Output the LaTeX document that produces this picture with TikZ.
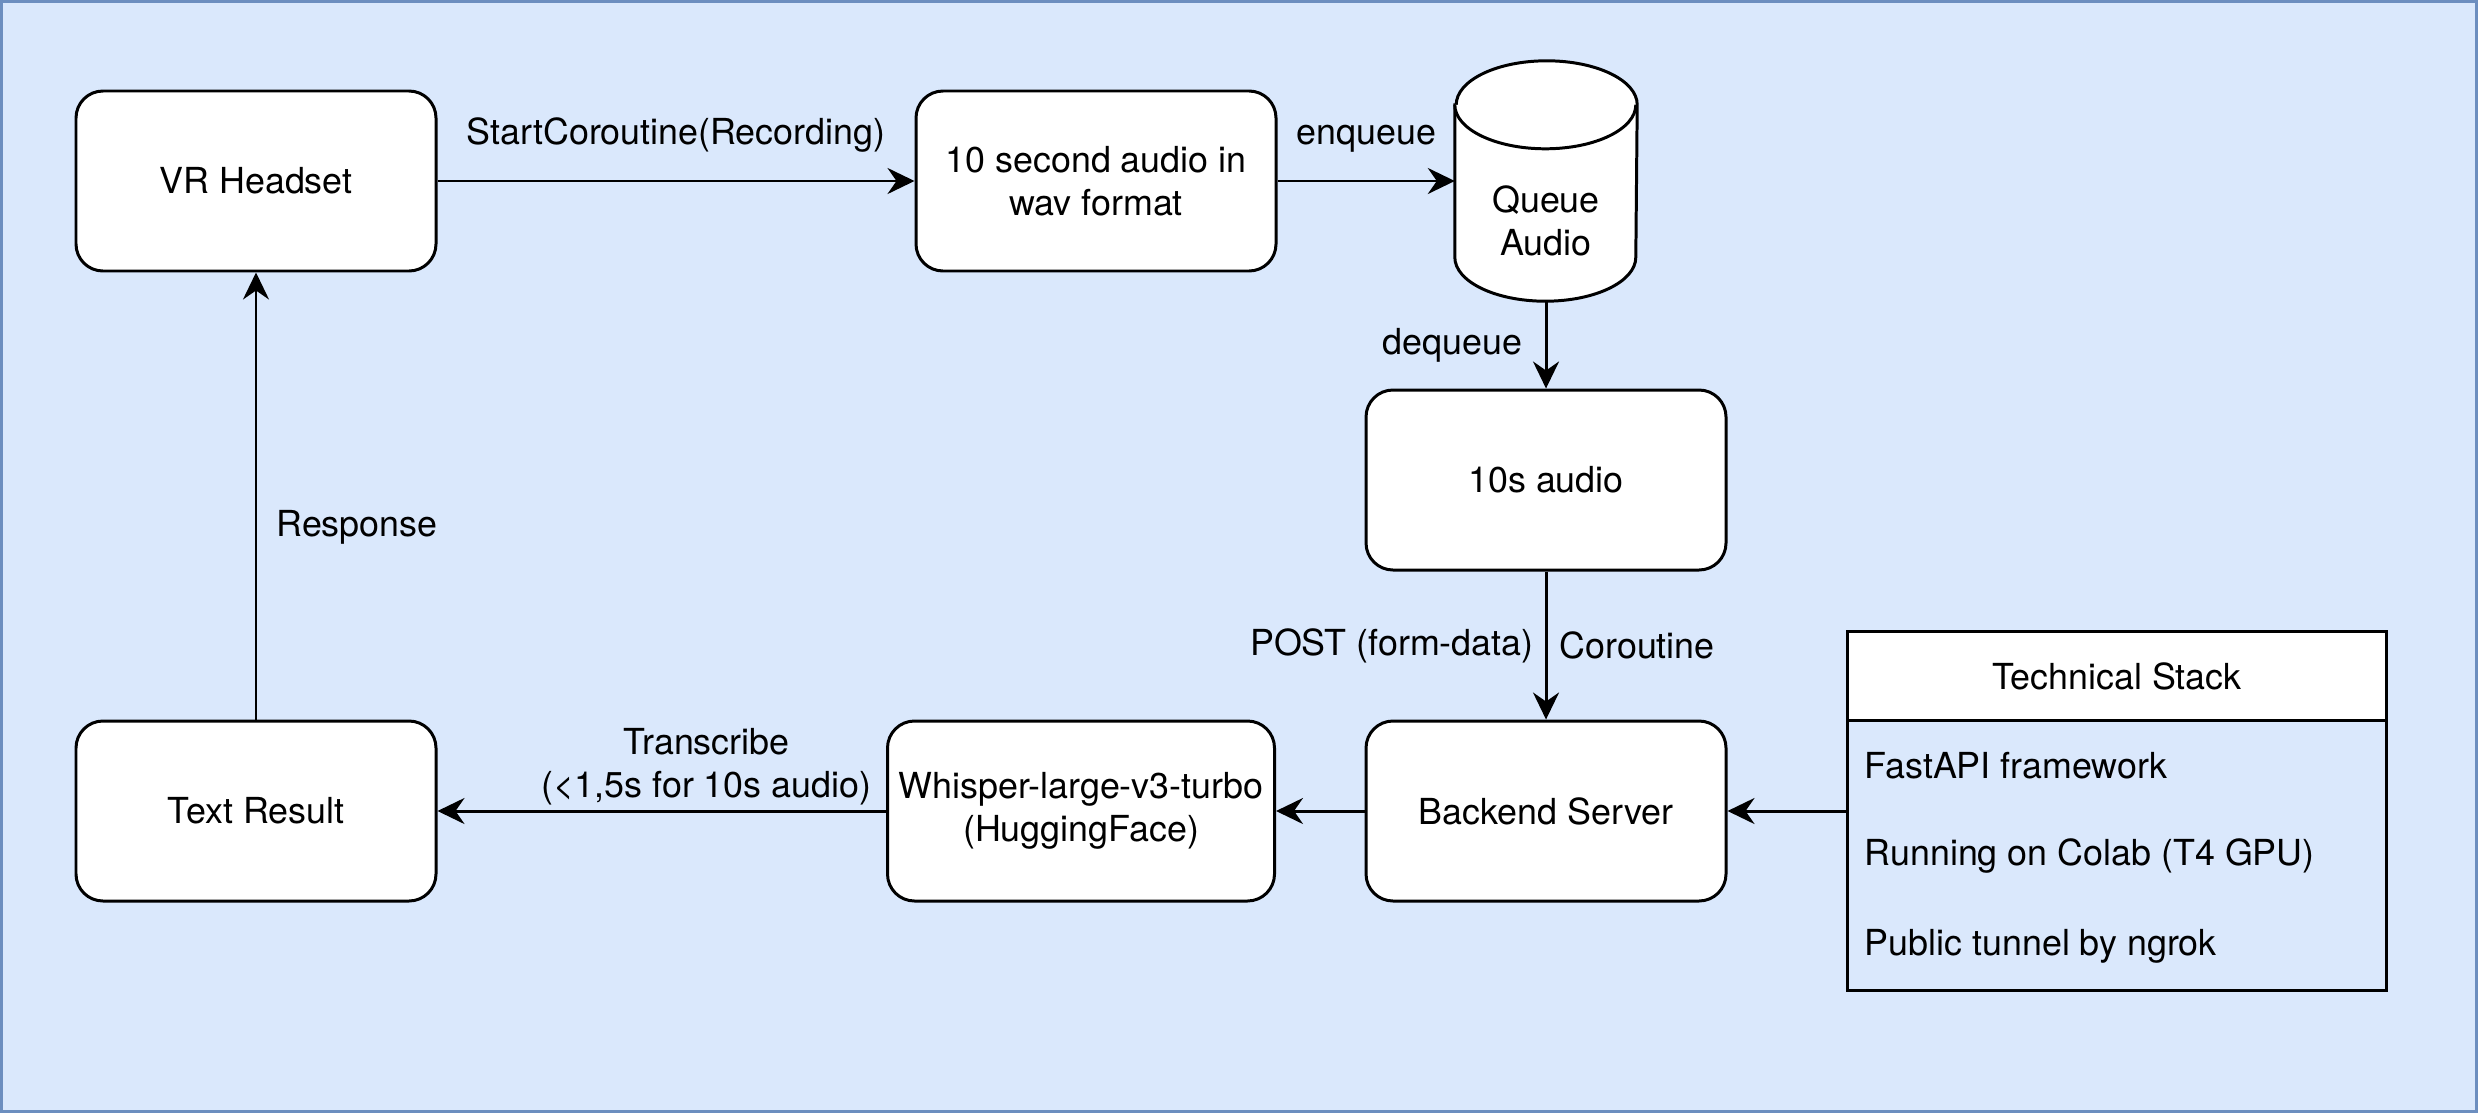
\documentclass[tikz,border=0pt]{standalone}
\usepackage{fontspec}
\setmainfont{TeX Gyre Heros}
\usepackage{tikz}
\usetikzlibrary{arrows.meta, positioning, shapes.geometric}
\usepackage{xcolor}
\definecolor{panelFill}{HTML}{DAE8FC}
\definecolor{panelLine}{HTML}{6C8EBF}

\begin{document}
\begin{tikzpicture}[
    font=\fontsize{10.2}{12.4}\selectfont,
    stepNode/.style={rectangle, rounded corners=0.27cm, fill=white, draw=black, line width=0.85pt, minimum width=3.6cm, minimum height=1.8cm, align=center, inner sep=0pt},
    queueNode/.style={rectangle, minimum width=1.81cm, minimum height=2.39cm, inner sep=0pt},
    queueBody/.style={fill=white, draw=black, line width=0.85pt},
    stackNode/.style={rectangle, draw=black, line width=0.85pt, minimum width=5.39cm, minimum height=3.59cm},
    stackTitle/.style={rectangle, fill=white, draw=black, line width=0.85pt, minimum width=5.39cm, minimum height=0.89cm},
    stackItem/.style={anchor=west, inner sep=0pt},
    flowRel/.style={-{Stealth[length=0.27cm, width=0.26cm, inset=0.09cm]}, line width=0.85pt},
    relLabel/.style={inner sep=0pt}
]
    % Background Panel
    \useasboundingbox (0,0) rectangle (24.78,11.13);
    \draw[fill=panelFill, draw=panelLine, line width=0.85pt] (0.015,0.015) rectangle (24.765,11.115);

    % Recording Pipeline
    \node[stepNode] (vr)  at (2.56, 9.32)  {VR Headset};
    \node[stepNode] (wav) at (10.96, 9.32) {10 second audio in\\wav format};
    \node[queueNode] (queue) at (15.46, 9.32) {};
    \node[stepNode] (clip) at (15.46, 6.33) {10s audio};

    % Queue cylinder
    \draw[queueBody] ([yshift=-0.44cm]queue.north west) -- ([yshift=0.44cm]queue.south west)
        arc[start angle=180, end angle=360, x radius=0.905cm, y radius=0.44cm]
        -- ([yshift=-0.44cm]queue.north east)
        arc[start angle=0, end angle=180, x radius=0.905cm, y radius=0.44cm] -- cycle;
    \draw[queueBody] ([yshift=-0.44cm]queue.north west)
        arc[start angle=180, end angle=360, x radius=0.905cm, y radius=0.44cm];
    \node[align=center, inner sep=0pt] (queueText) at ([yshift=-0.4cm]queue.center) {Queue\\Audio};

    % Server Side
    \node[stepNode] (backend) at (15.46, 3.02) {Backend Server};
    \node[stepNode, minimum width=3.87cm] (whisper) at (10.81, 3.02) {Whisper-large-v3-turbo\\(HuggingFace)};
    \node[stepNode] (result) at (2.56, 3.02) {Text Result};

    % Technical Stack
    \node[stackNode] (stack) at (21.17, 3.02) {};
    \node[stackTitle, anchor=north] (stackHead) at (stack.north) {Technical Stack};
    \node[stackItem] (fastapi) at (18.64, 3.47) {FastAPI framework};
    \node[stackItem] (colab)   at (18.64, 2.57) {Running on Colab (T4 GPU)};
    \node[stackItem] (ngrok)   at (18.64, 1.67) {Public tunnel by ngrok};

    % Relationships
    \draw[flowRel] (vr) -- node[relLabel, above=0.27cm] {StartCoroutine(Recording)} (wav);
    \draw[flowRel] (wav) -- node[relLabel, above=0.27cm] {enqueue} (queue);
    \draw[flowRel] (queue) -- node[relLabel, left=0.22cm] {dequeue} (clip);
    \draw[flowRel] (clip) -- node[relLabel, left=0.11cm] {POST (form-data)}
                             node[relLabel, right=0.12cm] {Coroutine} (backend);
    \draw[flowRel] (backend) -- (whisper);
    \draw[flowRel] (whisper) -- node[relLabel, above=0.04cm, pos=0.4, align=center] {Transcribe\\(<1,5s for 10s audio)} (result);
    \draw[flowRel] (result) -- node[relLabel, right=0.19cm, pos=0.43] {Response} (vr);
    \draw[flowRel] (stack) -- (backend);
\end{tikzpicture}
\end{document}
